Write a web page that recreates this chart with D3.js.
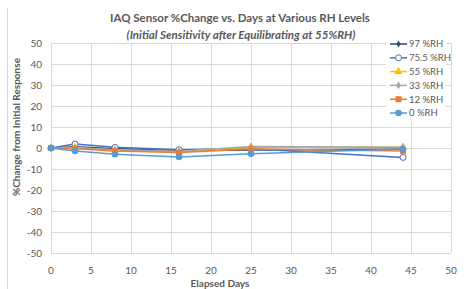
<!DOCTYPE html>
<html>
<head>
<meta charset="utf-8">
<script src="https://cdn.jsdelivr.net/npm/d3@7"></script>
<style>
  body { margin: 0; background: #fff; }
  text { font-family: Lato, "Open Sans", sans-serif; fill: #595959; }
</style>
</head>
<body>
<div id="chart"></div>
<script>
// data
const days = [0, 3, 8, 16, 25, 44];
const seriesNames = ["97 %RH", "75.5 %RH", "55 %RH", "33 %RH", "12 %RH", "0 %RH"];
const rh97  = [0, 0.6, -0.3, -1.2, -1.0, -0.6];
const rh755 = [0, 1.9, 0.3, -0.8, -0.4, -4.5];
const rh55  = [0, 0.2, -1.0, -1.8, 0.4, 0.4];
const rh33  = [0, 0.0, -0.8, -1.5, 0.7, 0.3];
const rh12  = [0, -0.3, -1.4, -2.2, -0.5, -1.4];
const rh0   = [0, -1.4, -3.0, -4.3, -2.7, -0.5];
const xTicks = [0, 5, 10, 15, 20, 25, 30, 35, 40, 45, 50];
const yTicks = [50, 40, 30, 20, 10, 0, -10, -20, -30, -40, -50];

const colors = ["#264478", "#4472C4", "#FFC000", "#A5A5A5", "#ED7D31", "#5B9BD5"];
const symbols = ["diamond", "openCircle", "triangle", "diamond", "square", "circle"];
const values = [rh97, rh755, rh55, rh33, rh12, rh0];

const W = 471, H = 289;
const svg = d3.select("#chart").append("svg")
    .attr("width", W)
    .attr("height", H);

const x = d3.scaleLinear().domain([0, 50]).range([51, 451]);
const y = d3.scaleLinear().domain([-50, 50]).range([253, 43]);

// outer chart border (only left edge shows)
svg.append("line")
    .attr("x1", 7.5).attr("x2", 7.5).attr("y1", 8).attr("y2", H)
    .attr("stroke", "#d9d9d9");

// gridlines
svg.append("g").selectAll("line").data(xTicks).join("line")
    .attr("x1", d => x(d) + 0.5).attr("x2", d => x(d) + 0.5)
    .attr("y1", y(50)).attr("y2", y(-50))
    .attr("stroke", "#d9d9d9");
svg.append("g").selectAll("line").data(yTicks).join("line")
    .attr("x1", x(0)).attr("x2", x(50))
    .attr("y1", d => y(d) + 0.5).attr("y2", d => y(d) + 0.5)
    .attr("stroke", "#d9d9d9");

// tick labels
svg.append("g").selectAll("text").data(yTicks).join("text")
    .attr("x", 42).attr("y", d => y(d) + 3.5)
    .attr("text-anchor", "end")
    .attr("font-size", 10)
    .text(d => d);
svg.append("g").selectAll("text").data(xTicks).join("text")
    .attr("x", d => x(d)).attr("y", 274)
    .attr("text-anchor", "middle")
    .attr("font-size", 10)
    .text(d => d);

// titles
svg.append("text")
    .attr("x", 240).attr("y", 22)
    .attr("text-anchor", "middle")
    .attr("font-size", 11.5).attr("font-weight", "bold")
    .text("IAQ Sensor %Change vs. Days at Various RH Levels");
svg.append("text")
    .attr("x", 241).attr("y", 39)
    .attr("text-anchor", "middle")
    .attr("font-size", 11.5).attr("font-weight", "bold").attr("font-style", "italic")
    .text("(Initial Sensitivity after Equilibrating at 55%RH)");
svg.append("text")
    .attr("transform", "translate(20,127) rotate(-90)")
    .attr("text-anchor", "middle")
    .attr("font-size", 10).attr("font-weight", "bold")
    .text("%Change from Initial Response");
svg.append("text")
    .attr("x", 220).attr("y", 287)
    .attr("text-anchor", "middle")
    .attr("font-size", 10).attr("font-weight", "bold")
    .text("Elapsed Days");

function marker(g, kind, color, cx, cy, small) {
  if (kind === "circle") {
    g.append("circle").attr("cx", cx).attr("cy", cy).attr("r", 3.3).attr("fill", color);
  } else if (kind === "openCircle") {
    g.append("circle").attr("cx", cx).attr("cy", cy).attr("r", 3)
      .attr("fill", "#fff").attr("stroke", color).attr("stroke-width", 1);
  } else {
    const type = kind === "square" ? d3.symbolSquare
      : kind === "triangle" ? d3.symbolTriangle : d3.symbolDiamond;
    const size = kind === "square" ? 36 : kind === "triangle" ? 30 : (small ? 14 : 18);
    g.append("path")
      .attr("d", d3.symbol().type(type).size(size)())
      .attr("transform", `translate(${cx},${cy})`)
      .attr("fill", color);
  }
}

const line = d3.line().x((d, i) => x(days[i])).y(d => y(d));

values.forEach((vals, k) => {
  const g = svg.append("g");
  g.append("path").datum(vals)
    .attr("d", line)
    .attr("fill", "none")
    .attr("stroke", colors[k])
    .attr("stroke-width", 1.5);
  vals.forEach((v, i) => marker(g, symbols[k], colors[k], x(days[i]), y(v), k === 0));
});

// legend
const lg = svg.append("g");
lg.append("rect").attr("x", 386).attr("y", 37).attr("width", 60).attr("height", 84).attr("fill", "#fff");
seriesNames.forEach((name, k) => {
  const ly = 44 + k * 13.8;
  lg.append("line").attr("x1", 390).attr("x2", 407).attr("y1", ly).attr("y2", ly)
    .attr("stroke", colors[k]).attr("stroke-width", 1.5);
  marker(lg, symbols[k], colors[k], 398.5, ly, k === 0);
  lg.append("text").attr("x", 409).attr("y", ly + 3.3)
    .attr("font-size", 9.5)
    .text(name);
});
</script>
</body>
</html>
